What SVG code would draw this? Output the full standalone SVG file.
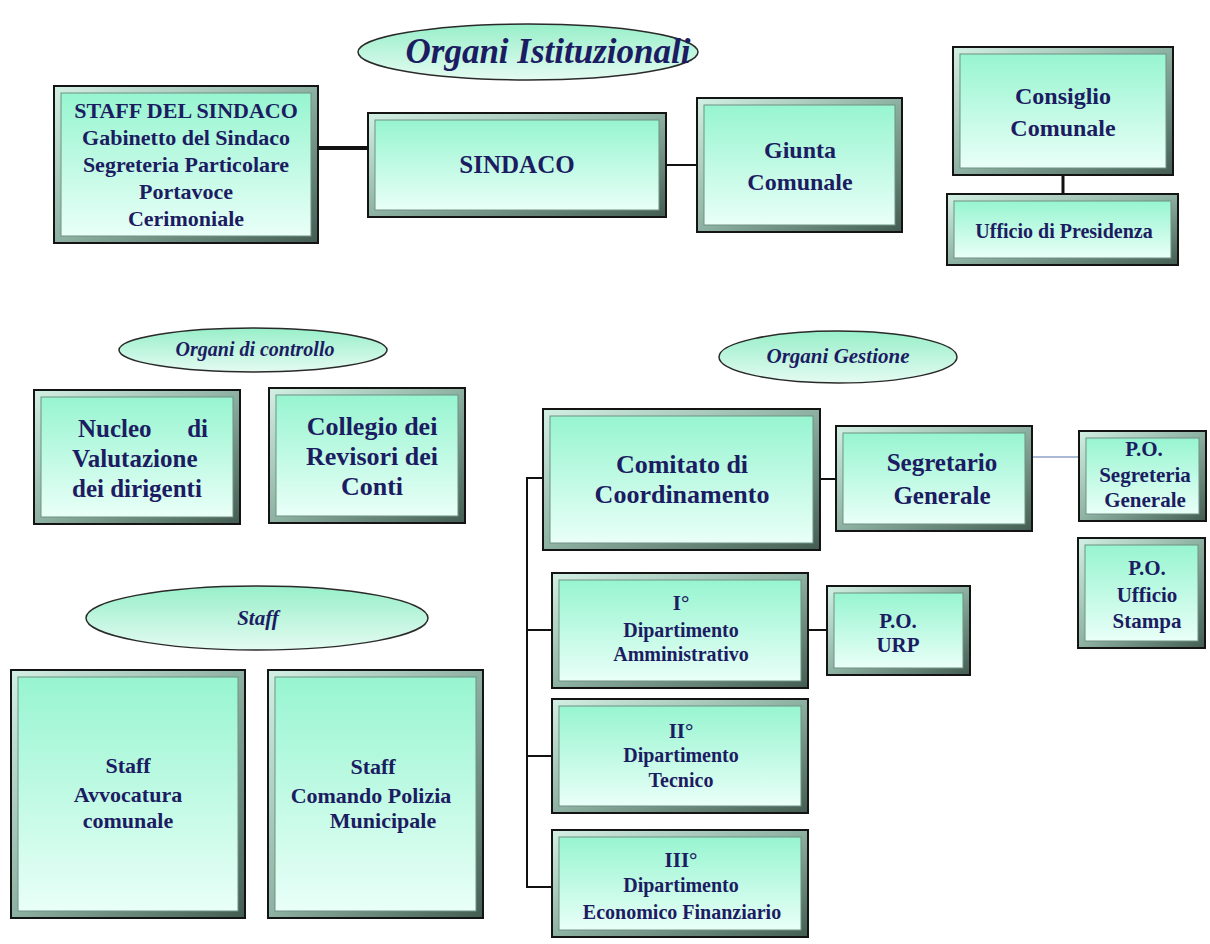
<svg xmlns="http://www.w3.org/2000/svg" width="1210" height="944" viewBox="0 0 1210 944">
<defs>
<linearGradient id="face" x1="0" y1="0" x2="0" y2="1">
<stop offset="0" stop-color="#97f5d0"/>
<stop offset="1" stop-color="#e9fff8"/>
</linearGradient>
<linearGradient id="bev" x1="0" y1="0" x2="1" y2="1">
<stop offset="0" stop-color="#d3f0e4"/>
<stop offset="0.5" stop-color="#8db1a2"/>
<stop offset="1" stop-color="#435c52"/>
</linearGradient>
<linearGradient id="ell" x1="0" y1="0" x2="0" y2="1">
<stop offset="0" stop-color="#98efc9"/>
<stop offset="1" stop-color="#e4fbf2"/>
</linearGradient>
<style>
.out{fill:url(#bev);stroke:#141414;stroke-width:2}
.in{fill:url(#face);stroke:#6f9184;stroke-width:1}
.e{fill:url(#ell);stroke:#2a2a2a;stroke-width:1.5}
text{font-family:"Liberation Serif","Times New Roman",serif;font-weight:bold;fill:#1c1c62;text-anchor:middle}
.it{font-style:italic}
.c{fill:none;stroke:#111;stroke-width:2}
</style>
</defs>

<g id="ellipses" font-family="Liberation Serif, serif">
<g id="title"><ellipse class="e" cx="528" cy="52" rx="170" ry="28"/><text class="it" x="548" y="63" font-size="35" font-weight="normal">Organi Istituzionali</text></g>
<g id="controllo"><ellipse class="e" cx="253" cy="350" rx="134" ry="22"/><text class="it" x="255" y="356" font-size="20">Organi di controllo</text></g>
<g id="gestione"><ellipse class="e" cx="838" cy="357" rx="119" ry="26"/><text class="it" x="838" y="363" font-size="21">Organi Gestione</text></g>
<g id="staff_label"><ellipse class="e" cx="257" cy="618" rx="171" ry="32"/><text class="it" x="258" y="625" font-size="21">Staff</text></g>
</g>

<g id="connectors">
<path d="M318 148H368" class="c" style="stroke-width:4"/>
<path d="M666 165H697" class="c"/>
<path d="M1063 175V194" class="c" style="stroke-width:3"/>
<path d="M820 479H836" class="c"/>
<path d="M1032 457H1079" fill="none" stroke="#a9b9d6" stroke-width="2"/>
<path d="M808 630H827" class="c"/>
<path d="M543 478H527V887H552M527 630H552M527 756H552" class="c"/>
</g>

<g id="staff_sindaco"><rect class="out" x="54" y="86" width="264" height="157"/><rect class="in" x="61" y="93" width="250" height="143"/>
<text font-size="22" x="186" y="118">STAFF DEL SINDACO</text><text font-size="22" x="186" y="145">Gabinetto del Sindaco</text><text font-size="22" x="186" y="172">Segreteria  Particolare</text><text font-size="22" x="186" y="199">Portavoce</text><text font-size="22" x="186" y="226">Cerimoniale</text></g>

<g id="sindaco"><rect class="out" x="368" y="113" width="298" height="104"/><rect class="in" x="375" y="120" width="284" height="90"/>
<text font-size="25" x="517" y="173">SINDACO</text></g>

<g id="giunta"><rect class="out" x="697" y="98" width="205" height="134"/><rect class="in" x="704" y="105" width="191" height="120"/>
<text font-size="24" x="800" y="158">Giunta</text><text font-size="24" x="800" y="190">Comunale</text></g>

<g id="consiglio"><rect class="out" x="953" y="47" width="220" height="128"/><rect class="in" x="960" y="54" width="206" height="114"/>
<text font-size="24" x="1063" y="104">Consiglio</text><text font-size="24" x="1063" y="136">Comunale</text></g>

<g id="ufficio_presidenza"><rect class="out" x="947" y="194" width="231" height="71"/><rect class="in" x="954" y="201" width="217" height="57"/>
<text font-size="20" x="1064" y="238">Ufficio di Presidenza</text></g>

<g id="nucleo"><rect class="out" x="34" y="390" width="206" height="134"/><rect class="in" x="41" y="397" width="192" height="120"/>
<text font-size="25" x="78" y="437" style="text-anchor:start">Nucleo</text><text font-size="25" x="208" y="437" style="text-anchor:end">di</text><text font-size="25" x="72" y="467" style="text-anchor:start">Valutazione</text><text font-size="25" x="72" y="497" style="text-anchor:start">dei dirigenti</text></g>

<g id="collegio"><rect class="out" x="269" y="388" width="196" height="135"/><rect class="in" x="276" y="395" width="182" height="121"/>
<text font-size="26" x="372" y="435">Collegio dei</text><text font-size="26" x="372" y="465">Revisori dei</text><text font-size="26" x="372" y="495">Conti</text></g>

<g id="comitato"><rect class="out" x="543" y="409" width="277" height="141"/><rect class="in" x="550" y="416" width="263" height="127"/>
<text font-size="26" x="682" y="473">Comitato di</text><text font-size="26" x="682" y="503">Coordinamento</text></g>

<g id="segretario"><rect class="out" x="836" y="426" width="196" height="105"/><rect class="in" x="843" y="433" width="182" height="91"/>
<text font-size="25" x="942" y="471">Segretario</text><text font-size="25" x="942" y="504">Generale</text></g>

<g id="po_segreteria"><rect class="out" x="1079" y="431" width="127" height="90"/><rect class="in" x="1086" y="438" width="113" height="76"/>
<text font-size="21" x="1144" y="456">P.O.</text><text font-size="21" x="1145" y="482">Segreteria</text><text font-size="21" x="1145" y="507">Generale</text></g>

<g id="po_stampa"><rect class="out" x="1078" y="538" width="127" height="110"/><rect class="in" x="1085" y="545" width="113" height="96"/>
<text font-size="21" x="1147" y="575">P.O.</text><text font-size="21" x="1147" y="602">Ufficio</text><text font-size="21" x="1147" y="628">Stampa</text></g>

<g id="dip1"><rect class="out" x="552" y="573" width="256" height="115"/><rect class="in" x="559" y="580" width="242" height="101"/>
<text font-size="21" x="681" y="610">I°</text><text font-size="20" x="681" y="637">Dipartimento</text><text font-size="20" x="681" y="661">Amministrativo</text></g>

<g id="po_urp"><rect class="out" x="827" y="586" width="143" height="89"/><rect class="in" x="834" y="593" width="129" height="75"/>
<text font-size="21" x="898" y="628">P.O.</text><text font-size="21" x="898" y="652">URP</text></g>

<g id="dip2"><rect class="out" x="552" y="699" width="256" height="114"/><rect class="in" x="559" y="706" width="242" height="100"/>
<text font-size="21" x="681" y="738">II°</text><text font-size="20" x="681" y="762">Dipartimento</text><text font-size="20" x="681" y="787">Tecnico</text></g>

<g id="dip3"><rect class="out" x="552" y="830" width="256" height="107"/><rect class="in" x="559" y="837" width="242" height="93"/>
<text font-size="21" x="681" y="867">III°</text><text font-size="20" x="681" y="892">Dipartimento</text><text font-size="20" x="682" y="919">Economico Finanziario</text></g>

<g id="staff_avvocatura"><rect class="out" x="11" y="670" width="234" height="248"/><rect class="in" x="18" y="677" width="220" height="234"/>
<text font-size="22" x="128" y="773">Staff</text><text font-size="22" x="128" y="802">Avvocatura</text><text font-size="22" x="128" y="828">comunale</text></g>

<g id="staff_polizia"><rect class="out" x="268" y="670" width="215" height="248"/><rect class="in" x="275" y="677" width="201" height="234"/>
<text font-size="22" x="373" y="774">Staff</text><text font-size="22" x="371" y="803">Comando Polizia</text><text font-size="22" x="383" y="828">Municipale</text></g>
</svg>
